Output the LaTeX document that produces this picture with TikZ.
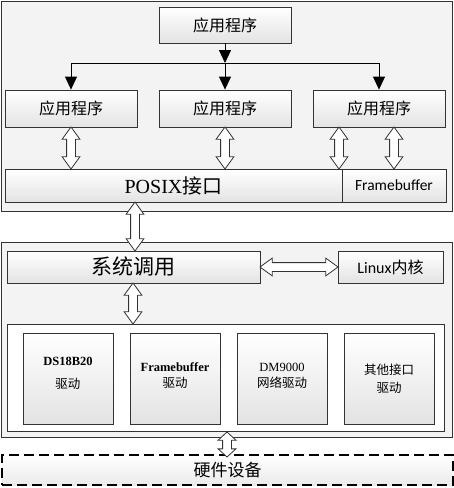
\documentclass[tikz,border=0pt]{standalone}
\usepackage{fontspec}
\setmainfont{Liberation Serif}
\newfontfamily\cjk{Noto Sans CJK SC}
\newfontfamily\carl{Carlito}
\usetikzlibrary{shapes.arrows,arrows.meta,calc}
\definecolor{edge}{HTML}{333333}
\definecolor{panel}{HTML}{F3F3F3}
\begin{document}
\begin{tikzpicture}[x=1pt,y=-1pt,
  panelbox/.style={draw=edge, line width=0.8pt, fill=panel, rectangle, inner sep=0pt},
  gbox/.style={draw=edge, line width=0.8pt, top color=white, bottom color=black!11, rectangle, inner sep=0pt},
  wbox/.style={draw=edge, line width=0.8pt, fill=white, rectangle, inner sep=0pt},
  dbl/.style={double arrow, draw=edge, line width=0.8pt, fill=white, inner sep=4pt,
    minimum width=0pt, double arrow head extend=4.5pt, double arrow tip angle=72},
  tarrow/.style={draw=black, line width=0.8pt, -{Triangle[length=13pt,width=12pt]}},
  hw/.style={draw=black, line width=2pt, dash pattern=on 10pt off 5pt, rectangle, top color=white, bottom color=black!8, inner sep=0pt}
]
\useasboundingbox (0,0) rectangle (454,488);
% panels
\node[panelbox, minimum width=451pt, minimum height=210pt] (p1) at (226.5,106) {};
\node[panelbox, minimum width=451pt, minimum height=195pt] (p2) at (226.5,339.5) {};
\node[hw, minimum width=451pt, minimum height=30pt] (hw) at (227.5,470) {\cjk\fontsize{17pt}{20pt}\selectfont 硬件设备};
% top part
\node[gbox, minimum width=132pt, minimum height=36pt] (top) at (225,25) {\cjk\fontsize{16pt}{19pt}\selectfont 应用程序};
\node[gbox, minimum width=132pt, minimum height=37pt] (a1) at (71,108.5) {\cjk\fontsize{16pt}{19pt}\selectfont 应用程序};
\node[gbox, minimum width=132pt, minimum height=37pt] (a2) at (225,108.5) {\cjk\fontsize{16pt}{19pt}\selectfont 应用程序};
\node[gbox, minimum width=132pt, minimum height=37pt] (a3) at (379,108.5) {\cjk\fontsize{16pt}{19pt}\selectfont 应用程序};
\node[gbox, minimum width=337pt, minimum height=33pt] (posix) at (173.5,185.5) {\fontsize{20pt}{24pt}\selectfont POSIX{\cjk 接口}};
\node[gbox, minimum width=104pt, minimum height=33pt] (fb) at (394,185.5) {\carl\fontsize{15.5pt}{18pt}\selectfont Framebuffer};
% tree arrows
\coordinate (j) at (225,63);
\coordinate (jl) at (71,63);
\coordinate (jr) at (379,63);
\draw[tarrow] (top.south) -- (j);
\draw[line width=0.8pt] (jl) -- (jr);
\draw[tarrow] (jl) -- (a1.north);
\draw[tarrow] (j) -- (a2.north);
\draw[tarrow] (jr) -- (a3.north);
% lower part
\node[gbox, minimum width=253pt, minimum height=32pt] (sys) at (133.5,267) {\cjk\fontsize{21pt}{24pt}\selectfont 系统调用};
\node[gbox, minimum width=105pt, minimum height=32pt] (linux) at (390.5,267) {\carl\fontsize{16pt}{19pt}\selectfont Linux{\cjk 内核}};
\node[wbox, minimum width=437pt, minimum height=107pt] (drv) at (225.5,377.5) {};
\node[gbox, minimum width=90pt, minimum height=91pt] (d1) at (68,378.5) {};
\node[gbox, minimum width=90pt, minimum height=91pt] (d2) at (175,378.5) {};
\node[gbox, minimum width=90pt, minimum height=91pt] (d3) at (282,378.5) {};
\node[gbox, minimum width=90pt, minimum height=91pt] (d4) at (389,378.5) {};
\node[align=center, font=\fontsize{12.5pt}{23pt}\selectfont] (t1) at (68,373.5) {\textbf{DS18B20}\\{\cjk 驱动}};
\node[align=center, font=\fontsize{12.5pt}{16pt}\selectfont] (t2) at (175,376) {\textbf{Framebuffer}\\{\cjk 驱动}};
\node[align=center, font=\fontsize{12.5pt}{16pt}\selectfont] (t3) at (282,376) {DM9000\\{\cjk 网络驱动}};
\node[align=center, font=\fontsize{12.5pt}{18pt}\selectfont] (t4) at (389,379) {{\cjk 其他接口}\\{\cjk 驱动}};
% double arrows
\node[dbl, minimum height=42pt, rotate=90] (da1) at (71,148) {};
\node[dbl, minimum height=42pt, rotate=90] (da2) at (225,148) {};
\node[dbl, minimum height=42pt, rotate=90] (da3) at (339,148) {};
\node[dbl, minimum height=42pt, rotate=90] (da4) at (394,148) {};
\node[dbl, minimum height=49pt, rotate=90] (da5) at (135,226.5) {};
\node[dbl, minimum height=78pt] (da6) at (299,267) {};
\node[dbl, minimum height=41pt, rotate=90] (da7) at (133,303.5) {};
\node[dbl, minimum height=25pt, rotate=90, double arrow tip angle=95] (da8) at (227,444.5) {};
\end{tikzpicture}
\end{document}
